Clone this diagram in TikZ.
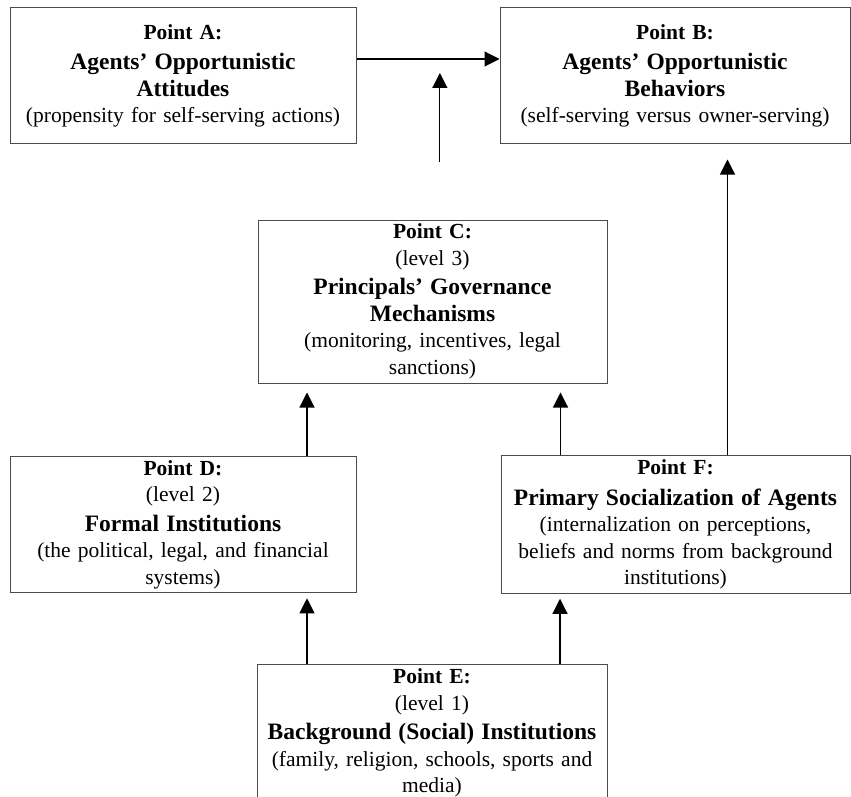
\documentclass[tikz,border=0pt]{standalone}
\usepackage{fontspec}
\setmainfont{Liberation Serif}
\usetikzlibrary{arrows.meta,calc}

\newcommand{\hd}[1]{{\bfseries #1}}
\newcommand{\ttl}[1]{{\fontsize{23.5}{27}\selectfont\bfseries #1}}

\begin{document}
\begin{tikzpicture}[x=1pt,y=-1pt,
   box/.style={draw=black!70, line width=1pt, align=center, inner sep=4pt,
               font=\fontsize{21.5}{26.5}\selectfont},
   conn/.style={draw, line width=1.1pt, -{Triangle[length=15pt,width=15pt]}}]
\useasboundingbox (0,0) rectangle (851,797);
\node[box, minimum width=346pt, minimum height=136pt, text width=338pt] (ptA) at (183,76)
  {\hd{Point A:}\\[4pt]\ttl{Agents' Opportunistic}\\\ttl{Attitudes}\\(propensity for self-serving actions)};
\node[box, minimum width=350pt, minimum height=136pt, text width=342pt] (ptB) at (675,76)
  {\hd{Point B:}\\[4pt]\ttl{Agents' Opportunistic}\\\ttl{Behaviors}\\(self-serving versus owner-serving)};
\node[box, minimum width=349pt, minimum height=161pt, text width=341pt] (ptC) at (432.5,301.5)
  {\hd{Point C:}\\(level 3)\\[3pt]\ttl{Principals' Governance}\\\ttl{Mechanisms}\\(monitoring, incentives, legal\\sanctions)};
\node[box, minimum width=346pt, minimum height=135pt, text width=338pt] (ptD) at (183,524.5)
  {\hd{Point D:}\\(level 2)\\[3pt]\ttl{Formal Institutions}\\(the political, legal, and financial\\systems)};
\node[box, minimum width=349pt, minimum height=135pt, text width=341pt] (ptF) at (675.5,524.5)
  {\hd{Point F:}\\[4pt]\ttl{Primary Socialization of Agents}\\(internalization on perceptions,\\beliefs and norms from background\\institutions)};
\node[box, minimum width=350pt, minimum height=135pt, text width=342pt] (ptE) at (432,733)
  {\hd{Point E:}\\(level 1)\\[3pt]\ttl{Background (Social) Institutions}\\(family, religion, schools, sports and\\media)};

\draw[conn] ([yshift=17pt]ptA.east) -- ([yshift=17pt]ptB.west);
\coordinate (aim) at ($([yshift=17pt]ptA.east)!0.583!([yshift=17pt]ptB.west)$);
\coordinate (tail) at ([yshift=-103pt]aim);
\draw[conn, shorten >=14pt] (tail) -- (aim);
\draw[conn, shorten >=15pt] ([xshift=52pt]ptF.north) -- ([xshift=52pt]ptF.north |- ptB.south);
\draw[conn, shorten >=9pt] ([xshift=124pt]ptD.north) -- ([xshift=124pt]ptD.north |- ptC.south);
\draw[conn, shorten >=9pt] ([xshift=-115pt]ptF.north) -- ([xshift=-115pt]ptF.north |- ptC.south);
\draw[conn, shorten >=5pt] ([xshift=-125pt]ptE.north) -- ([xshift=-125pt]ptE.north |- ptD.south);
\draw[conn, shorten >=5pt] ([xshift=128pt]ptE.north) -- ([xshift=128pt]ptE.north |- ptF.south);
\end{tikzpicture}
\end{document}
